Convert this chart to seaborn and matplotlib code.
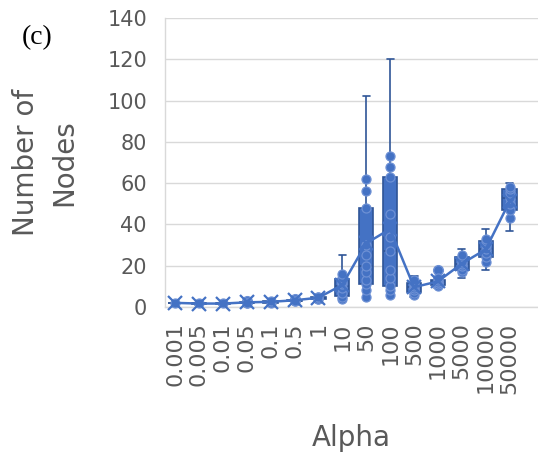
import matplotlib
matplotlib.use("Agg")
import matplotlib.pyplot as plt
import pandas as pd
import seaborn as sns

# alpha values (x categories)
alpha_labels = ["0.001", "0.005", "0.01", "0.05", "0.1", "0.5", "1", "10",
                "50", "100", "500", "1000", "5000", "10000", "50000"]

nodes_0_001 = [2, 2, 2]
nodes_0_005 = [1, 2, 2]
nodes_0_01 = [1, 2, 2]
nodes_0_05 = [2, 2, 2, 3]
nodes_0_1 = [2, 2, 3, 3]
nodes_0_5 = [3, 3, 3, 4]
nodes_1 = [3, 4, 4, 5, 5, 6]
nodes_10 = [4, 4, 5, 7, 9, 11, 12, 14, 16, 25]
nodes_50 = [4, 5, 8, 11, 13, 17, 20, 25, 30, 48, 56, 62, 102]
nodes_100 = [5, 6, 8, 10, 14, 18, 27, 34, 45, 63, 68, 73, 120]
nodes_500 = [5, 6, 7, 8, 9, 10, 11, 12, 13, 15]
nodes_1000 = [9, 10, 11, 12, 12, 13, 14, 18]
nodes_5000 = [14, 17, 18, 20, 21, 22, 24, 25, 28]
nodes_10000 = [18, 22, 24, 26, 28, 30, 32, 33, 38]
nodes_50000 = [37, 43, 47, 50, 53, 55, 57, 58, 60]

samples = [nodes_0_001, nodes_0_005, nodes_0_01, nodes_0_05, nodes_0_1, nodes_0_5,
           nodes_1, nodes_10, nodes_50, nodes_100, nodes_500, nodes_1000,
           nodes_5000, nodes_10000, nodes_50000]

df = pd.DataFrame(
    [(a, v) for a, vals in zip(alpha_labels, samples) for v in vals],
    columns=["alpha", "nodes"],
)
# inner points: drop the lowest and highest value of each group (whisker ends / outliers)
df = df.sort_values(["alpha", "nodes"], kind="stable")
df["top"] = df.groupby("alpha").cumcount(ascending=False)
df["bottom"] = df.groupby("alpha").cumcount()
inner = df[(df["top"] > 0) & (df["bottom"] > 0)]

BLUE = "#4472C4"
EDGE = "#2F5597"
LIGHT = "#6d90d4"
GRAY = "#595959"

sns.set_style("white")
plt.rcParams["font.family"] = ["DejaVu Sans"]

fig = plt.figure(figsize=(5.38, 4.57), dpi=100)
ax = fig.add_axes([165 / 538, 1 - 307 / 457, 373 / 538, 289 / 457])

sns.boxplot(data=df, x="alpha", y="nodes", order=alpha_labels, whis=1.5,
            width=0.6, color=BLUE, linecolor=EDGE, linewidth=1.2, saturation=1,
            showfliers=True,
            flierprops=dict(marker="o", markersize=7, markerfacecolor=BLUE,
                            markeredgecolor=LIGHT),
            ax=ax)
sns.stripplot(data=inner, x="alpha", y="nodes", order=alpha_labels, jitter=False,
              size=6.5, color=BLUE, edgecolor=LIGHT, linewidth=0.9, ax=ax, zorder=3)
sns.pointplot(data=df, x="alpha", y="nodes", order=alpha_labels, estimator="mean",
              errorbar=None, color=BLUE, markers="x", markersize=10,
              markeredgewidth=1.6, linewidth=1.8, ax=ax, zorder=4)

for art in ax.get_children():
    if hasattr(art, "set_clip_on"):
        art.set_clip_on(False)

ax.set_xlim(-0.42, 15.19)
ax.set_ylim(0, 140)
ax.set_yticks(range(0, 141, 20))
ax.yaxis.grid(True, color="#d9d9d9", linewidth=1)
ax.set_axisbelow(True)
for side in ["top", "right"]:
    ax.spines[side].set_visible(False)
for side in ["left", "bottom"]:
    ax.spines[side].set_color("#d9d9d9")
    ax.spines[side].set_linewidth(1)

ax.tick_params(axis="y", length=0, pad=13, labelsize=15, labelcolor=GRAY)
ax.tick_params(axis="x", length=0, pad=11, labelsize=16, labelcolor=GRAY, rotation=90)

ax.set_xlabel("Alpha", fontsize=20, color=GRAY, labelpad=22)
ax.set_ylabel("Number of\nNodes", fontsize=20, color=GRAY, linespacing=1.45)
ax.yaxis.label.set_va("center")
ax.yaxis.set_label_coords((45 - 165) / 373, 0.5)

fig.text(22 / 538, 1 - 38 / 457, "(c)", fontsize=20, family="Liberation Serif",
         color="black", va="center", ha="left")

fig.savefig("out.png", dpi=100)
